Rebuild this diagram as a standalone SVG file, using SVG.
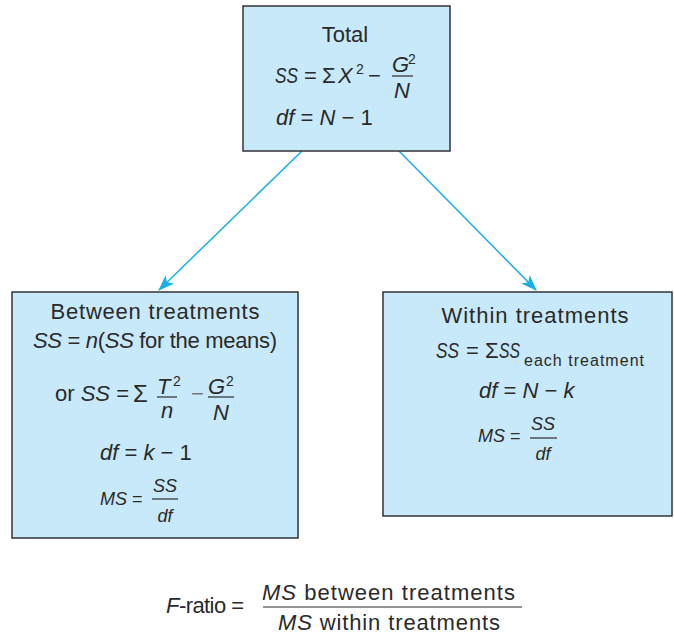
<svg xmlns="http://www.w3.org/2000/svg" width="674" height="636" viewBox="0 0 674 636">
<style>
.box{fill:#c8e9f9;stroke:#333;stroke-width:1.5}
text{font-family:"Liberation Sans",Arial,sans-serif;font-size:22px;fill:#2a2a2a}
.i{font-style:italic}
.sm{font-size:18px}
.sup{font-size:14px}
.sub{font-size:16px}
.fr{stroke:#2a2a2a;stroke-width:1.2}
.conn{stroke:#1aafe6;stroke-width:1.5;fill:none}
</style>
<defs>
<marker id="ah" viewBox="0 0 16 12" refX="15" refY="6" markerWidth="16" markerHeight="12" markerUnits="userSpaceOnUse" orient="auto">
<path d="M0,0 L16,6 L0,12 L4,6 Z" fill="#1aafe6"/>
</marker>
</defs>
<g id="connectors">
<line class="conn" x1="302" y1="151" x2="159" y2="290" marker-end="url(#ah)"/>
<line class="conn" x1="399" y1="151" x2="536" y2="290" marker-end="url(#ah)"/>
</g>
<g id="total">
<rect class="box" x="243" y="6" width="207" height="145"/>
<text x="345" y="42" text-anchor="middle">Total</text>
<text x="275" y="83" class="i" textLength="23" lengthAdjust="spacingAndGlyphs">SS</text>
<text x="304" y="83">=</text>
<text x="322" y="83">Σ</text>
<text x="338" y="83" class="i">X</text>
<text x="356" y="74" class="sup">2</text>
<text x="368" y="83">−</text>
<text x="392" y="72" class="i">G</text>
<text x="408" y="64" class="sup">2</text>
<line class="fr" x1="392" y1="76" x2="413" y2="76"/>
<text x="394" y="98" class="i">N</text>
<text x="276" y="125"><tspan class="i">df</tspan> = <tspan class="i">N</tspan> − 1</text>
</g>
<g id="between">
<rect class="box" x="12" y="292" width="286" height="246"/>
<text x="155" y="319" text-anchor="middle" textLength="209">Between treatments</text>
<text x="33" y="348" textLength="244"><tspan class="i">SS</tspan> = <tspan class="i">n</tspan>(<tspan class="i">SS</tspan> for the means)</text>
<text x="55" y="401">or <tspan class="i">SS</tspan> =</text>
<text x="133" y="402" style="font-size:24px">Σ</text>
<text x="157" y="394" class="i">T</text>
<text x="173" y="386" class="sup">2</text>
<line class="fr" x1="157" y1="397" x2="177" y2="397"/>
<text x="161" y="418" class="i">n</text>
<text x="191" y="401" style="fill:#777">−</text>
<text x="208" y="394" class="i">G</text>
<text x="226" y="386" class="sup">2</text>
<line class="fr" x1="208" y1="397" x2="234" y2="397"/>
<text x="213" y="420" class="i">N</text>
<text x="100" y="460"><tspan class="i">df</tspan> = <tspan class="i">k</tspan> − 1</text>
<text x="100" y="505" class="sm"><tspan class="i">MS</tspan> =</text>
<text x="165" y="492" class="sm i" text-anchor="middle">SS</text>
<line class="fr" x1="152" y1="499" x2="178" y2="499"/>
<text x="165" y="522" class="sm i" text-anchor="middle">df</text>
</g>
<g id="within">
<rect class="box" x="383" y="292" width="289" height="224"/>
<text x="535" y="323" text-anchor="middle" textLength="187">Within treatments</text>
<text x="436" y="358" class="i" textLength="23" lengthAdjust="spacingAndGlyphs">SS</text>
<text x="466" y="358">=</text>
<text x="485" y="358">Σ</text>
<text x="499" y="358" class="i" textLength="21" lengthAdjust="spacingAndGlyphs">SS</text>
<text x="524" y="366" class="sub" textLength="120">each treatment</text>
<text x="479" y="398"><tspan class="i">df</tspan> = <tspan class="i">N</tspan> − <tspan class="i">k</tspan></text>
<text x="478" y="442" class="sm"><tspan class="i">MS</tspan> =</text>
<text x="543" y="430" class="sm i" text-anchor="middle">SS</text>
<line class="fr" x1="530" y1="438" x2="557" y2="438"/>
<text x="543" y="460" class="sm i" text-anchor="middle">df</text>
</g>
<g id="fratio">
<text x="166" y="613" textLength="78"><tspan class="i">F</tspan>-ratio =</text>
<text x="262" y="600" textLength="253"><tspan class="i">MS</tspan> between treatments</text>
<line class="fr" x1="263" y1="607" x2="522" y2="607"/>
<text x="278" y="630" textLength="222"><tspan class="i">MS</tspan> within treatments</text>
</g>
</svg>
